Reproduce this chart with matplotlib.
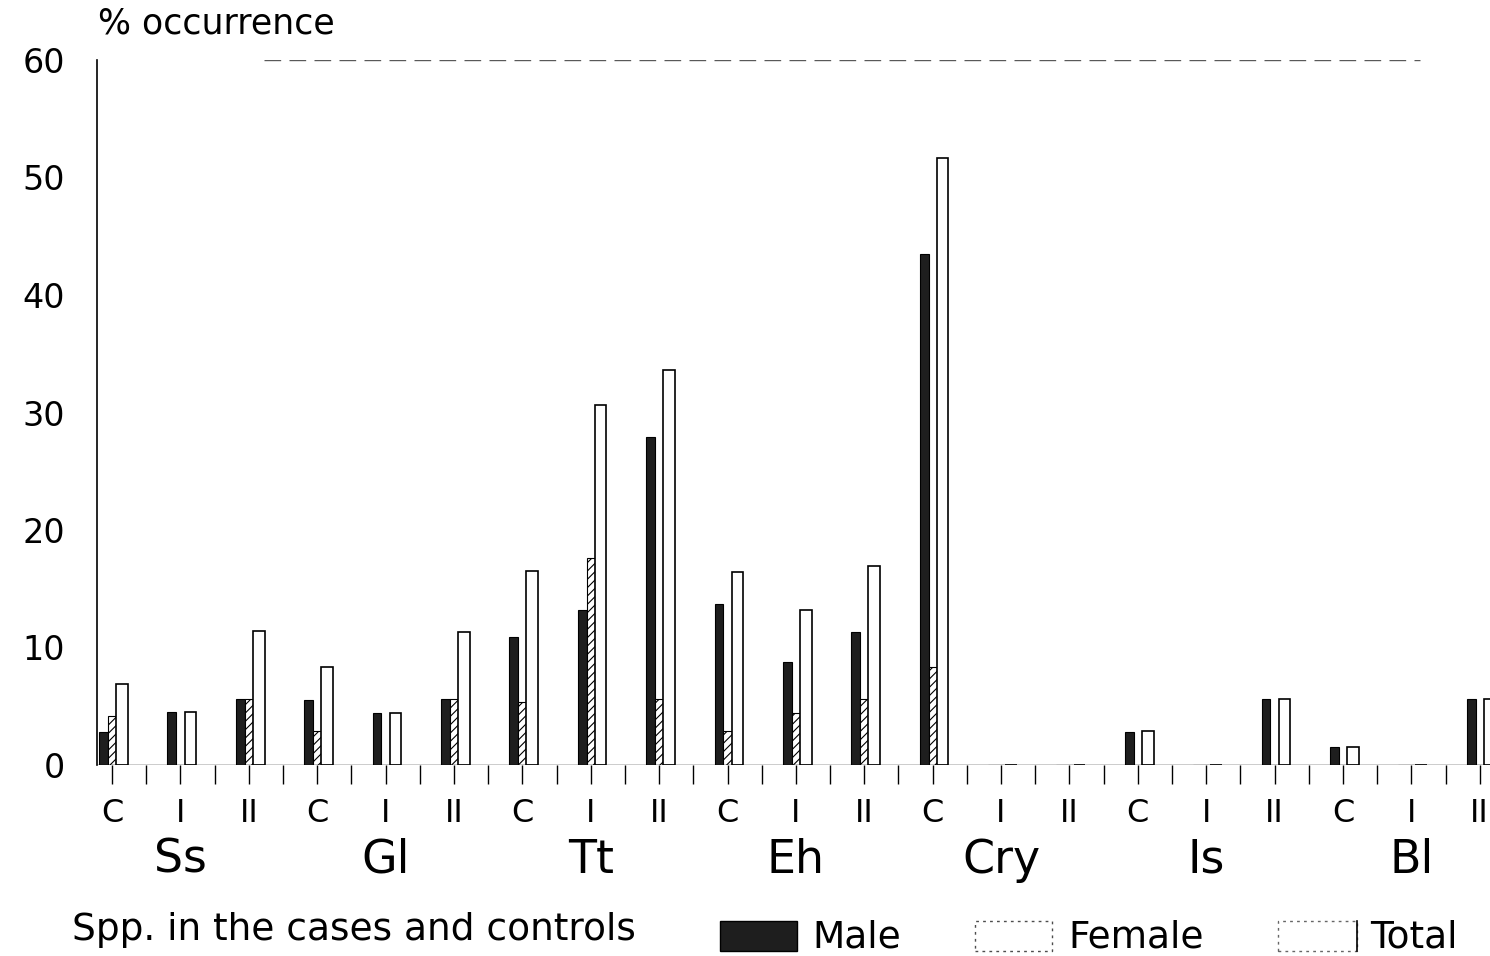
import numpy as np
import matplotlib
matplotlib.use("Agg")
from matplotlib import pyplot as plt
from matplotlib.patches import Rectangle

species = ['Ss', 'Gl', 'Tt', 'Eh', 'Cry', 'Is', 'Bl']
groups = ['C', 'I', 'II']

# % occurrence, order: species x (C, I, II)
male = [2.8, 4.5, 5.6, 5.5, 4.4, 5.6, 10.9, 13.2, 27.9, 13.7, 8.8, 11.3,
        43.5, 0, 0, 2.8, 0, 5.6, 1.5, 0, 5.6]
female = [4.2, 0, 5.6, 2.9, 0, 5.6, 5.4, 17.6, 5.6, 2.9, 4.4, 5.6,
          8.3, 0, 0, 0, 0, 0, 0, 0, 0]
total = [6.9, 4.5, 11.4, 8.3, 4.4, 11.3, 16.5, 30.6, 33.6, 16.4, 13.2, 16.9,
         51.7, 0, 0, 2.9, 0, 5.6, 1.5, 0, 5.6]

yticks = [0, 10, 20, 30, 40, 50, 60]

plt.rcParams['font.family'] = ['DejaVu Sans']
plt.rcParams['hatch.linewidth'] = 0.8

fig = plt.figure(figsize=(14.9, 9.56), dpi=100)
ax = fig.add_axes([97 / 1490, 1 - 765 / 956, 1 - 97 / 1490, 705 / 956])

x = np.arange(len(male))
ax.bar(x - 0.125, male, width=0.13, color='#1e1e1e', edgecolor='black', linewidth=0.8)
ax.bar(x, female, width=0.12, color='white', edgecolor='black', hatch='////', linewidth=0.8)
ax.bar(x + 0.145, total, width=0.17, color='white', edgecolor='black', linewidth=1.2)

ax.set_xlim(-0.22, 20.15)
ax.set_ylim(0, 60)

for s in ['top', 'right', 'bottom']:
    ax.spines[s].set_visible(False)
ax.spines['left'].set_linewidth(1.2)
ax.axhline(0, color='black', lw=1.0)
ax.axhline(60, color='0.35', lw=1.0, ls=(0, (12, 6)), xmin=0.12, xmax=0.95)

ax.set_yticks(yticks)
ax.set_yticklabels([str(v) for v in yticks], fontsize=24)
ax.tick_params(axis='y', length=0, pad=23)

ax.set_xticks(x)
ax.set_xticklabels(groups * len(species), fontsize=23)
ax.set_xticks(np.arange(0.5, 20, 1.0), minor=True)
ax.tick_params(axis='x', which='both', direction='out', length=14, width=1.0, pad=10)

for i, sp in enumerate(species):
    ax.text(i * 3 + 1, -0.135, sp, transform=ax.get_xaxis_transform(),
            ha='center', va='center', fontsize=33)

fig.text(98 / 1490, 1 - 24 / 956, '% occurrence', fontsize=25, va='center', ha='left')

# legend row
ly = 1 - 930 / 956
fig.text(72 / 1490, ly, 'Spp. in the cases and controls', fontsize=27, va='center', ha='left')
sh = 30 / 956
fig.add_artist(Rectangle((720 / 1490, ly - 0.006 - sh / 2), 77 / 1490, sh, transform=fig.transFigure,
                         facecolor='#1e1e1e', edgecolor='black'))
fig.text(812 / 1490, ly - 0.008, 'Male', fontsize=27, va='center', ha='left')
fig.add_artist(Rectangle((975 / 1490, ly - 0.006 - sh / 2), 77 / 1490, sh, transform=fig.transFigure,
                         facecolor='white', edgecolor='0.3', ls=(0, (2, 3)), lw=1.0))
fig.text(1068 / 1490, ly - 0.008, 'Female', fontsize=27, va='center', ha='left')
fig.add_artist(Rectangle((1278 / 1490, ly - 0.006 - sh / 2), 79 / 1490, sh, transform=fig.transFigure,
                         facecolor='white', edgecolor='0.4', ls=(0, (2, 3)), lw=1.0))
fig.add_artist(plt.Line2D([1357 / 1490, 1357 / 1490], [ly - 0.006 - sh / 2, ly - 0.006 + sh / 2],
                          transform=fig.transFigure, color='black', lw=1.2))
fig.text(1370 / 1490, ly - 0.008, 'Total', fontsize=27, va='center', ha='left')

fig.savefig('out.png', dpi=100)
